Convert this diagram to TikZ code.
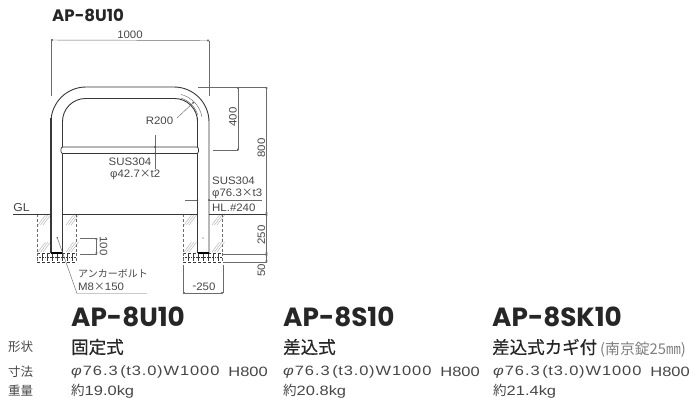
\documentclass[tikz,border=0pt]{standalone}
\usepackage{fontspec}
\usetikzlibrary{arrows.meta,patterns}
\setmainfont[FakeStretch=1.06]{Liberation Sans}
\newfontfamily\headfont{Poppins}
\newfontfamily\jpfont{Noto Sans CJK JP}
\newfontfamily\jpbold[FakeBold=0.5]{Noto Sans CJK JP}
\newfontfamily\specfont[FakeStretch=1.22]{Liberation Sans}
\newfontfamily\specwide[FakeStretch=1.22,LetterSpace=7]{Liberation Sans}
\definecolor{ink}{gray}{0.22}
\definecolor{thin}{gray}{0.42}
\definecolor{hatchc}{gray}{0.68}
\definecolor{txt}{gray}{0.28}
\tikzset{
  x=1pt,y=-1pt,
  tube/.style={draw=ink,line width=0.9pt,rounded corners=#1},
  thinl/.style={draw=thin,line width=0.45pt},
  dimline/.style={draw=thin,line width=0.45pt,{Circle[length=2pt,fill=ink]}-{Circle[length=2pt,fill=ink]}},
  dimtxt/.style={inner sep=0pt,text=txt,font=\fontsize{10.8}{12}\selectfont},
  rotl/.style={dimtxt,rotate=90},
  rotr/.style={dimtxt,rotate=-90},
  leftt/.style={dimtxt,anchor=west},
  model/.style={inner sep=0pt,anchor=west,text=black!85,font=\headfont\bfseries\fontsize{26.3}{28}\selectfont},
  kind/.style={inner sep=0pt,anchor=west,text=black!85,font=\jpbold\fontsize{17.5}{19}\selectfont},
  spec/.style={inner sep=0pt,anchor=west,text=txt,font=\specfont\fontsize{13.5}{15}\selectfont},
  rowh/.style={inner sep=0pt,anchor=west,text=txt,font=\jpfont\fontsize{12.5}{14}\selectfont},
  hatchl/.style={draw=hatchc,line width=0.4pt},
  foundv/.style={draw=thin,line width=0.5pt,densely dashed},
}
\newcommand{\jp}[1]{{\jpfont #1}}
\newcommand{\footing}[1]{%
  \draw[foundv] (#1,214) -- (#1,253);
  \draw[foundv] (#1+39.5,214) -- (#1+39.5,253);
  \foreach \i in {0,2.5,5}{
    \draw[hatchl] (#1+1+\i,225) -- ++(7.5,-10);
    \draw[hatchl] (#1+29+\i,225) -- ++(7.5,-10);
    \draw[hatchl] (#1+1+\i,252) -- ++(7.5,-10);
    \draw[hatchl] (#1+29+\i,252) -- ++(7.5,-10);
  }
  \draw[ink,line width=0.6pt,densely dashed] (#1,253.5) -- (#1+39.5,253.5);
  \draw[ink,line width=0.6pt,densely dotted] (#1,257.5) -- (#1+39.5,257.5);
  \draw[ink,line width=0.6pt,densely dashed] (#1,262) -- (#1+39.5,262);
  \draw[foundv] (#1,253) -- (#1,262);
  \draw[foundv] (#1+39.5,253) -- (#1+39.5,262);
  \foreach \i in {5,10,...,35}{\draw[ink,line width=0.5pt] (#1+\i,254) -- (#1+\i,261);}
}
\begin{document}
\begin{tikzpicture}
\useasboundingbox[fill=white] (0,0) rectangle (700,405);
% footings and ground line
\footing{37}
\footing{183}
\draw[draw=ink,line width=0.5pt] (13,214) -- (51,214) (62.5,214) -- (197.5,214) (209,214) -- (267,214);
\node[dimtxt,font=\fontsize{11.5}{13}\selectfont] (gl) at (21.5,208) {GL};
% tube
\draw[tube=35pt] (51,253) -- (51,87) -- (209,87) -- (209,253);
\draw[tube=23pt] (62.5,253) -- (62.5,98.5) -- (197.5,98.5) -- (197.5,253);
\draw[draw=ink,line width=1.05pt] (51,253) -- (51,118) (197.5,253) -- (197.5,118);
\draw[draw=black,line width=1.1pt] (51,253) -- (62.5,253) (197.5,253) -- (209,253);
% crossbar
\draw[fill=white,draw=ink,line width=0.7pt,rounded corners=2pt] (61,147) rectangle (198.5,153.5);
% radius marks
\draw[thinl] (181,94.4) arc[start angle=75.5,end angle=11,radius=28.6pt];
\draw[thinl] (180.6,98) arc[start angle=74,end angle=17,radius=25pt];
\coordinate (rdot) at (194,102);
\coordinate (rend) at (177,118);
\draw[thinl,{Circle[length=2pt,fill=ink]}-] (rdot) -- (rend);
\node[dimtxt] (r200) at (159.5,120.5) {R200};
% 1000 dim
\node[dimtxt] (w1000) at (130,34.5) {1000};
\draw[dimline] (51,40) coordinate (wa) -- (209,40.5) coordinate (wb);
\draw[thinl] (wa) -- (51,96) (wb) -- (209,96);
% height dims
\coordinate (top8) at (266.5,87);
\coordinate (gl8) at (266.5,214);
\coordinate (base) at (266.5,254);
\coordinate (bot) at (266.5,262);
\coordinate (d4a) at (238,87);
\coordinate (d4b) at (238,150.5);
\draw[thinl] (198,87) -- (top8);
\draw[thinl] (213,150.5) -- (d4b);
\draw[dimline] (d4a) -- (d4b);
\draw[dimline] (top8) -- (gl8);
\draw[dimline] (gl8) -- (base);
\draw[dimline] (base) -- (bot);
\draw[thinl] (223,254) -- (base) (223,262) -- (bot);
\node[rotl] (h400) at (233,117) {400};
\node[rotl] (h800) at (261.5,148) {800};
\node[rotl] (h250) at (261.5,235) {250};
\node[rotl] (h50) at (261.5,270) {50};
% 100 dim
\coordinate (ha) at (96.5,238);
\coordinate (hb) at (96.5,254);
\draw[thinl] (80,238) -- (ha) (80,254) -- (hb);
\draw[dimline] (ha) -- (hb);
\node[rotr] (h100) at (103.5,246) {100};
% crossbar label
\coordinate (cbt) at (155,135);
\coordinate (cbb) at (155,169);
\draw[thinl] (cbt) -- (cbb);
\fill[ink] (155,147) circle (0.8pt) (155,153.5) circle (0.8pt);
\node[dimtxt] (sus1) at (130,162) {SUS304};
\node[leftt] (phi1) at (110,175) {φ42.7\jp{×}t2};
% post label
\node[leftt] (sus2) at (212,180.5) {SUS304};
\node[leftt] (phi2) at (212,194) {φ76.3\jp{×}t3};
\node[leftt] (hl) at (212,207.5) {HL.\#240};
\draw[thinl] (185,200) -- (197.5,200) (209,200) -- (262,200);
\fill[ink] (197.5,200) circle (0.8pt) (209,200) circle (0.8pt);
\fill[ink] (203,238) circle (0.6pt);
% anchor bolt leader
\coordinate (ab) at (57,237);
\coordinate (ac) at (77,293.5);
\coordinate (ad) at (147,293.5);
\draw[thinl,{Circle[length=1.6pt,fill=thin]}-] (ab) -- (ac) -- (ad);
\node[leftt] (anchor) at (78,274) {\jp{\fontsize{10}{12}\selectfont アンカーボルト}};
\node[leftt] (m8) at (78,286.5) {M8\jp{×}150};
% bottom width dim
\draw[dimline] (183,293) coordinate (fa) -- (223,293) coordinate (fb);
\draw[thinl] (fa) -- (183,265) (fb) -- (223,265);
\node[dimtxt] (f250) at (204,287) {\raisebox{2pt}{\fontsize{6}{6}\selectfont =}250};
% title
\node[inner sep=0pt,anchor=west,text=black!85,font=\headfont\bfseries\fontsize{16.6}{18}\selectfont] (title) at (52,15) {AP-8U10};
% table
\node[rowh] (r1) at (8,347) {\jp{形状}};
\node[rowh] (r2) at (8,372) {\jp{寸法}};
\node[rowh] (r3) at (8,391) {\jp{重量}};
\node[model] (m1) at (71,317) {AP-8U10};
\node[model] (m2) at (283,317) {AP-8S10};
\node[model] (m3) at (492,317) {AP-8SK10};
\node[kind] (k1) at (71,347) {固定式};
\node[kind] (k2) at (283,347) {差込式};
\node[kind] (k3) at (492,347) {差込式カギ付};
\node[rowh,text=gray,font=\jpfont\fontsize{14.8}{16}\selectfont] (k3b) at (600,350) {(南京錠25㎜)};
\foreach \x/\n in {71/a,283/b,493/c}{
  \node[spec,font=\specwide\fontsize{13.5}{15}\selectfont] (s\n) at (\x,372) {\textit{φ}76.3\hspace{2.5pt}(\hspace{0.5pt}t3.0\hspace{0.5pt})\hspace{1pt}W1000};
  \node[spec,anchor=east] (hh\n) at (\x+197,372) {H800};
}
\node[spec] (w1) at (71,391) {\jp{約}19.0kg};
\node[spec] (w2) at (283,391) {\jp{約}20.8kg};
\node[spec] (w3) at (493,391) {\jp{約}21.4kg};
\end{tikzpicture}
\end{document}
